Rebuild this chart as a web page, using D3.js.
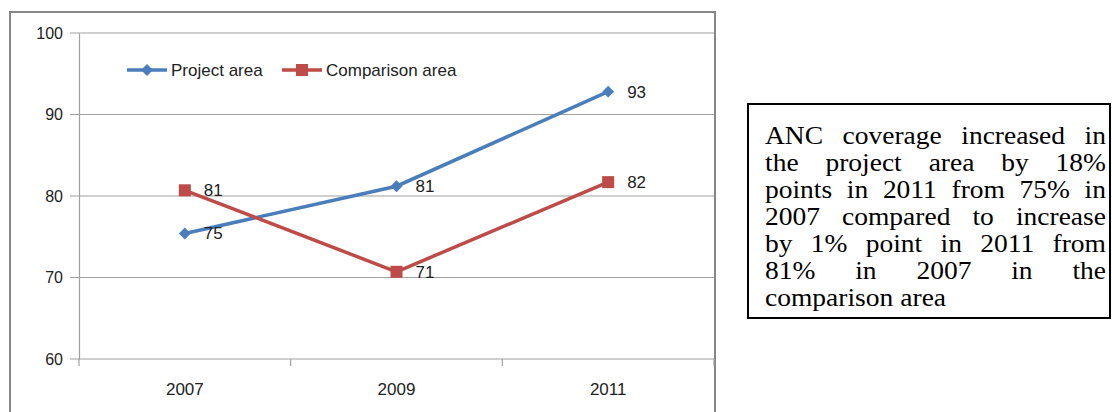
<!DOCTYPE html>
<html>
<head>
<meta charset="utf-8">
<script src="https://cdn.jsdelivr.net/npm/d3@7"></script>
<style>
  html, body { margin: 0; padding: 0; background: #fff; }
  svg { display: block; }
</style>
</head>
<body>
<svg id="chart" width="1112" height="412"></svg>
<script>
const years = ["2007", "2009", "2011"];
const projectValues = [75.4, 81.2, 92.8];
const comparisonValues = [80.7, 70.7, 81.7];
const projectLabels = ["75", "81", "93"];
const comparisonLabels = ["81", "71", "82"];
const yTicks = [60, 70, 80, 90, 100];
const seriesNames = ["Project area", "Comparison area"];
const noteLines = [
  "ANC coverage increased in",
  "the project area by 18%",
  "points in 2011 from 75% in",
  "2007 compared to increase",
  "by 1% point in 2011 from",
  "81% in 2007 in the",
  "comparison area"
];

(function () {
const svg = d3.select("#chart");
const blue = "#4a7ebb", red = "#be4b48";
const font = "'Liberation Sans', Arial, sans-serif";

// outer chart border
svg.append("rect").attr("x", 10).attr("y", 12).attr("width", 705).attr("height", 430)
  .attr("fill", "#fff").attr("stroke", "#868686").attr("stroke-width", 2);

const pLeft = 79, pRight = 714, pTop = 33, pBottom = 359;
const x = d3.scaleBand().domain(years).range([pLeft, pRight]);
const y = d3.scaleLinear().domain([60, 100]).range([pBottom, pTop]);
const cx = d => x(d) + x.bandwidth() / 2;

// gridlines
svg.append("g").selectAll("line").data(yTicks).join("line")
  .attr("x1", pLeft - 9).attr("x2", pRight)
  .attr("y1", d => y(d)).attr("y2", d => y(d))
  .attr("stroke", "#a0a0a0").attr("stroke-width", 1.2);

// y axis
const yAxis = svg.append("g").attr("transform", `translate(${pLeft},0)`)
  .call(d3.axisLeft(y).tickValues(yTicks).tickSize(0).tickPadding(16));
yAxis.select(".domain").attr("stroke", "#a0a0a0").attr("stroke-width", 1.2);
yAxis.selectAll("text").attr("font-family", font).attr("font-size", 16).attr("fill", "#222");

// x axis
const xAxis = svg.append("g").attr("transform", `translate(0,${pBottom})`)
  .call(d3.axisBottom(x).tickSize(0).tickPadding(24));
xAxis.select(".domain").remove();
xAxis.selectAll("text").attr("font-family", font).attr("font-size", 17).attr("fill", "#222");
svg.append("g").selectAll("line").data(years.concat(["end"])).join("line")
  .attr("x1", (d, i) => pLeft + i * x.bandwidth()).attr("x2", (d, i) => pLeft + i * x.bandwidth())
  .attr("y1", pBottom).attr("y2", pBottom + 7)
  .attr("stroke", "#a0a0a0").attr("stroke-width", 1.2);

// lines
const line = d3.line().x((d, i) => cx(years[i])).y(d => y(d));
svg.append("path").datum(projectValues).attr("d", line)
  .attr("fill", "none").attr("stroke", blue).attr("stroke-width", 3.5);
svg.append("path").datum(comparisonValues).attr("d", line)
  .attr("fill", "none").attr("stroke", red).attr("stroke-width", 3.5);

// markers
const diamond = d3.symbol().type(d3.symbolDiamond2).size(90);
svg.append("g").selectAll("path").data(projectValues).join("path")
  .attr("d", diamond)
  .attr("transform", (d, i) => `translate(${cx(years[i])},${y(d)})`)
  .attr("fill", blue);
svg.append("g").selectAll("rect").data(comparisonValues).join("rect")
  .attr("x", (d, i) => cx(years[i]) - 6).attr("y", d => y(d) - 6)
  .attr("width", 12).attr("height", 12).attr("fill", red);

// data labels
svg.append("g").selectAll("text").data(projectValues).join("text")
  .attr("x", (d, i) => cx(years[i]) + 19).attr("y", d => y(d) + 6)
  .attr("font-family", font).attr("font-size", 17).attr("fill", "#222")
  .text((d, i) => projectLabels[i]);
svg.append("g").selectAll("text").data(comparisonValues).join("text")
  .attr("x", (d, i) => cx(years[i]) + 19).attr("y", d => y(d) + 6)
  .attr("font-family", font).attr("font-size", 17).attr("fill", "#222")
  .text((d, i) => comparisonLabels[i]);

// legend
const legendY = 70;
const leg = [{ x: 127, c: blue, t: "d" }, { x: 282, c: red, t: "s" }];
leg.forEach((l, i) => {
  svg.append("line").attr("x1", l.x).attr("x2", l.x + 40).attr("y1", legendY).attr("y2", legendY)
    .attr("stroke", l.c).attr("stroke-width", 3.5);
  if (l.t === "d") {
    svg.append("path").attr("d", diamond).attr("transform", `translate(${l.x + 20},${legendY})`).attr("fill", l.c);
  } else {
    svg.append("rect").attr("x", l.x + 14).attr("y", legendY - 6).attr("width", 12).attr("height", 12).attr("fill", l.c);
  }
  svg.append("text").attr("x", l.x + 44).attr("y", legendY + 6)
    .attr("font-family", font).attr("font-size", 17).attr("fill", "#222")
    .text(seriesNames[i]);
});

// note box
svg.append("rect").attr("x", 748).attr("y", 104).attr("width", 362).attr("height", 214)
  .attr("fill", "#fff").attr("stroke", "#000").attr("stroke-width", 2);
const tx0 = 765, tx1 = 1106, base0 = 144, lh = 27;
const sx = 1.1;
const serif = "'Liberation Serif', 'Times New Roman', serif";
noteLines.forEach((ln, li) => {
  const words = ln.split(" ");
  const g = svg.append("g");
  const by = base0 + li * lh;
  const nodes = words.map(w => g.append("text").attr("font-family", serif).attr("font-size", 25)
    .attr("fill", "#000").text(w));
  const widths = nodes.map(n => n.node().getComputedTextLength() * sx);
  const total = d3.sum(widths);
  const last = li === noteLines.length - 1;
  const gap = last ? 7 : (tx1 - tx0 - total) / (words.length - 1);
  let xx = tx0;
  nodes.forEach((n, k) => {
    n.attr("transform", `translate(${xx},${by}) scale(${sx},1)`);
    xx += widths[k] + gap;
  });
});
})();
</script>
</body>
</html>
